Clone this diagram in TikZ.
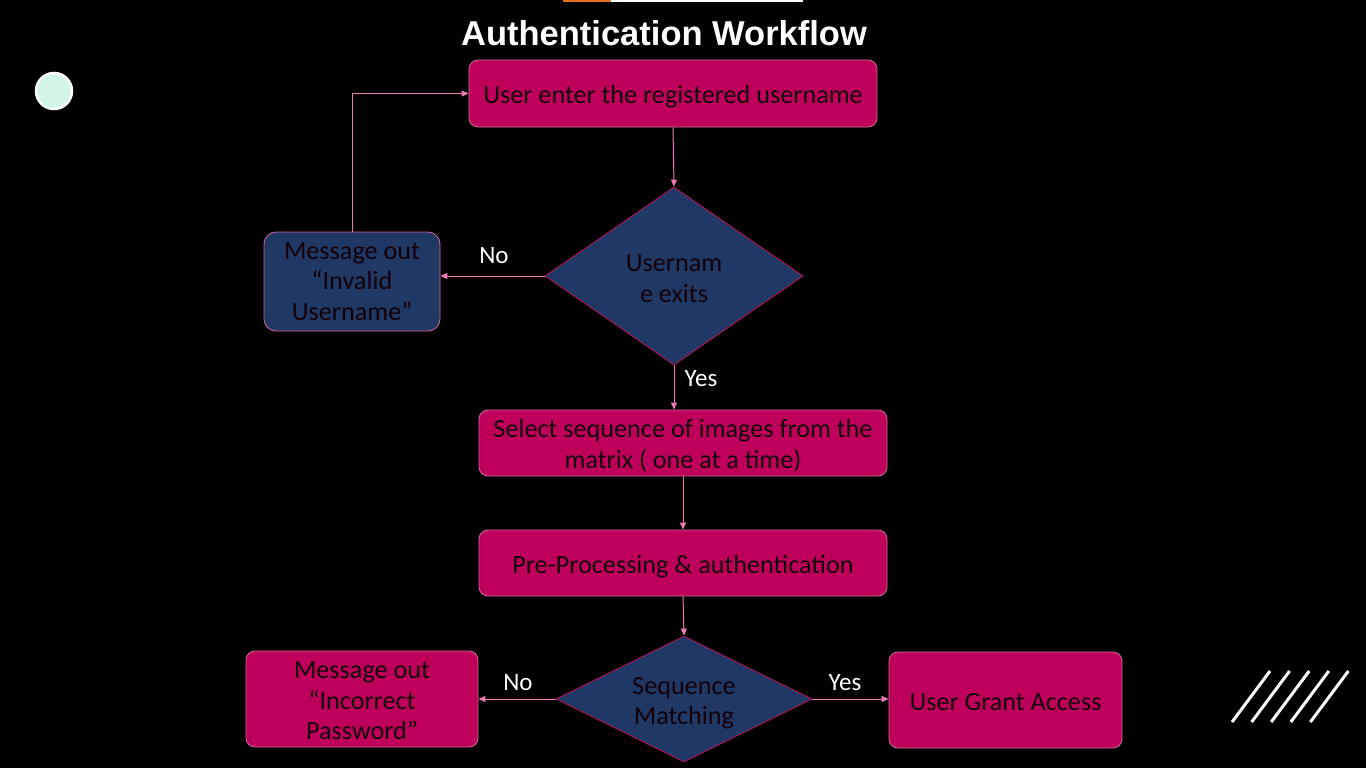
\documentclass[tikz,border=0pt]{standalone}
\usepackage{fontspec}
\setmainfont{Carlito}
\newfontfamily\titlefont{Liberation Sans}
\usetikzlibrary{shapes.geometric,arrows.meta}
\definecolor{bg}{HTML}{000000}
\definecolor{magfill}{HTML}{BE005A}
\definecolor{magline}{HTML}{D2689A}
\definecolor{navyfill}{HTML}{203864}
\definecolor{navyline}{HTML}{C0105A}
\definecolor{arrowc}{HTML}{F07AB4}
\definecolor{txtc}{HTML}{12000A}
\definecolor{mint}{HTML}{D3F5E6}
\definecolor{orangebar}{HTML}{E07020}
\newcommand{\upstrut}[1]{\rule{0pt}{#1}}
\tikzset{
  boxtext/.style={font=\fontsize{26.2}{30.5}\selectfont, text=txtc, align=center},
  magbox/.style={boxtext, rectangle, rounded corners=9pt, fill=magfill, draw=magline, line width=0.8pt, inner sep=0pt},
  navybox/.style={boxtext, rectangle, rounded corners=12pt, fill=navyfill, draw=magline, line width=0.8pt, inner sep=0pt},
  decision/.style={boxtext, diamond, fill=navyfill, draw=navyline, line width=0.8pt, inner sep=0pt},
  lowered/.style={execute at begin node={\rule{0pt}{#1}}},
  lowered/.default={24.5pt},
  flow/.style={draw=arrowc, line width=1pt, -{Triangle[width=6pt,length=7pt]}},
  lbl/.style={font=\fontsize{25}{30}\selectfont, text=white},
}
\begin{document}
\begin{tikzpicture}[x=1pt,y=-1pt]
\fill[bg] (0,0) rectangle (1366,768);
\useasboundingbox (0,0) rectangle (1366,768);
% top bar
\fill[orangebar] (563,0) rectangle (611,2);
\fill[white] (611,0) rectangle (803,2);
% title
\node[font=\titlefont\bfseries\fontsize{34.5}{38}\selectfont, text=white] (title) at (664,33) {Authentication Workflow};
% decorations
\node[circle, fill=mint, draw=white, line width=2.5pt, minimum size=36pt, inner sep=0pt] (dot) at (54,91) {};
\foreach \k in {0,...,4}{
  \draw[white, line width=3pt] (1232+19.6*\k,722) -- (1270+19.6*\k,671);
}
% nodes
\node[magbox, lowered, minimum width=408pt, minimum height=67pt] (b1) at (673,93.5) {User enter the registered username};
\node[decision, shape aspect=1.449, minimum width=258pt, minimum height=178pt] (d1) at (674,276) {\upstrut{22pt}Usernam\\e exits};
\node[navybox, minimum width=176pt, minimum height=99pt] (m1) at (352,281.5) {Message out\\“Invalid\\Username”};
\node[magbox, minimum width=408pt, minimum height=66pt] (b2) at (683,443) {\upstrut{24pt}Select sequence of images from the\\matrix ( one at a time)};
\node[magbox, lowered, minimum width=408pt, minimum height=66pt] (b3) at (683,563) {Pre-Processing \& authentication};
\node[decision, shape aspect=2.03, minimum width=256pt, minimum height=126pt] (d2) at (684,699) {\upstrut{25pt}Sequence\\Matching};
\node[magbox, minimum width=232pt, minimum height=96pt] (m2) at (362,699) {\upstrut{21pt}Message out\\“Incorrect\\Password”};
\node[magbox, lowered=20.5pt, minimum width=233pt, minimum height=96pt] (b5) at (1005.5,700) {User Grant Access};
% labels
\node[lbl] (no1) at (494,256) {No};
\node[lbl] (yes1) at (701,379) {Yes};
\node[lbl] (no2) at (518,683) {No};
\node[lbl] (yes2) at (845,683) {Yes};
% connectors
\draw[flow] (b1.south) -- (d1.north);
\draw[flow] (d1.west) -- (m1.east |- d1.west);
\draw[flow] (m1.north) |- (b1.west);
\draw[flow] (d1.south) -- (d1.south |- b2.north);
\draw[flow] (b2.south) -- (b3.north);
\draw[flow] (b3.south) -- (d2.north);
\draw[flow] (d2.west) -- (m2.east);
\draw[flow] (d2.east) -- (b5.west |- d2.east);
\end{tikzpicture}
\end{document}
